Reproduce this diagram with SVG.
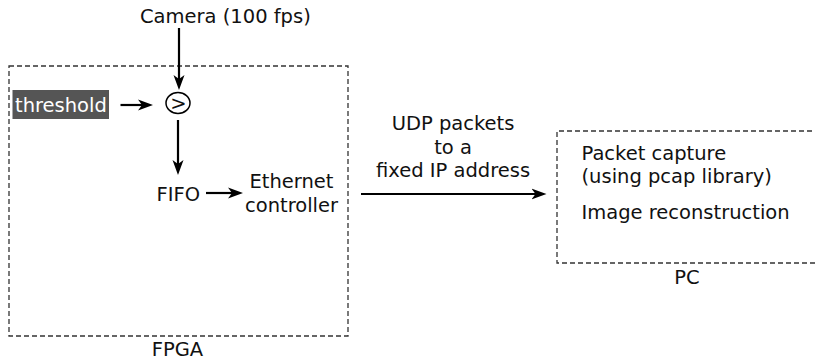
<svg xmlns="http://www.w3.org/2000/svg" width="815" height="360" viewBox="0 0 815 360">
<style>
text{font-family:"DejaVu Sans",sans-serif;font-size:19.5px;fill:#111}
.box{fill:none;stroke:#333;stroke-width:1.3;stroke-dasharray:5,3}
.arr{fill:none;stroke:#000;stroke-width:2.2;marker-end:url(#ah)}
.mid{text-anchor:middle}
</style>
<defs>
<marker id="ah" markerUnits="userSpaceOnUse" viewBox="0 -6 16 12" markerWidth="16" markerHeight="12" refX="5" refY="0" orient="auto">
<path d="M0,-5.5 L15,0 L0,5.5 L4,0 Z" fill="#000"/>
</marker>
</defs>
<g id="fpga">
<rect class="box" x="9" y="66" width="339" height="270"/>
<text class="mid" x="177.5" y="356">FPGA</text>
</g>
<g id="pc">
<path class="box" d="M820,131 H557 V263 H820"/>
<text x="581.5" y="160">Packet capture</text>
<text x="581.5" y="183">(using pcap library)</text>
<text x="581.5" y="219">Image reconstruction</text>
<text class="mid" x="687" y="284">PC</text>
</g>
<g id="camera">
<text x="140" y="23">Camera (100 fps)</text>
</g>
<g id="threshold">
<rect x="12.5" y="90" width="96.5" height="29" fill="#555"/>
<text x="15" y="111.5" style="fill:#fff">threshold</text>
</g>
<g id="comparator">
<ellipse cx="178" cy="103" rx="12" ry="10.5" fill="none" stroke="#000" stroke-width="1.5"/>
<text class="mid" x="178.5" y="110">&gt;</text>
</g>
<g id="fifo">
<text x="156.5" y="200.5">FIFO</text>
</g>
<g id="ethernet">
<text class="mid" x="291.5" y="188">Ethernet</text>
<text class="mid" x="291.5" y="211.5">controller</text>
</g>
<g id="udp-label">
<text class="mid" x="453" y="130">UDP packets</text>
<text class="mid" x="453" y="153.5">to a</text>
<text class="mid" x="453" y="177">fixed IP address</text>
</g>
<g id="connectors">
<line class="arr" x1="179" y1="28" x2="179" y2="80"/>
<line class="arr" x1="120.5" y1="105" x2="143" y2="105"/>
<line class="arr" x1="178" y1="120" x2="178" y2="165"/>
<line class="arr" x1="206" y1="193" x2="233" y2="193"/>
<line class="arr" x1="361" y1="194" x2="536.5" y2="194"/>
</g>
</svg>
